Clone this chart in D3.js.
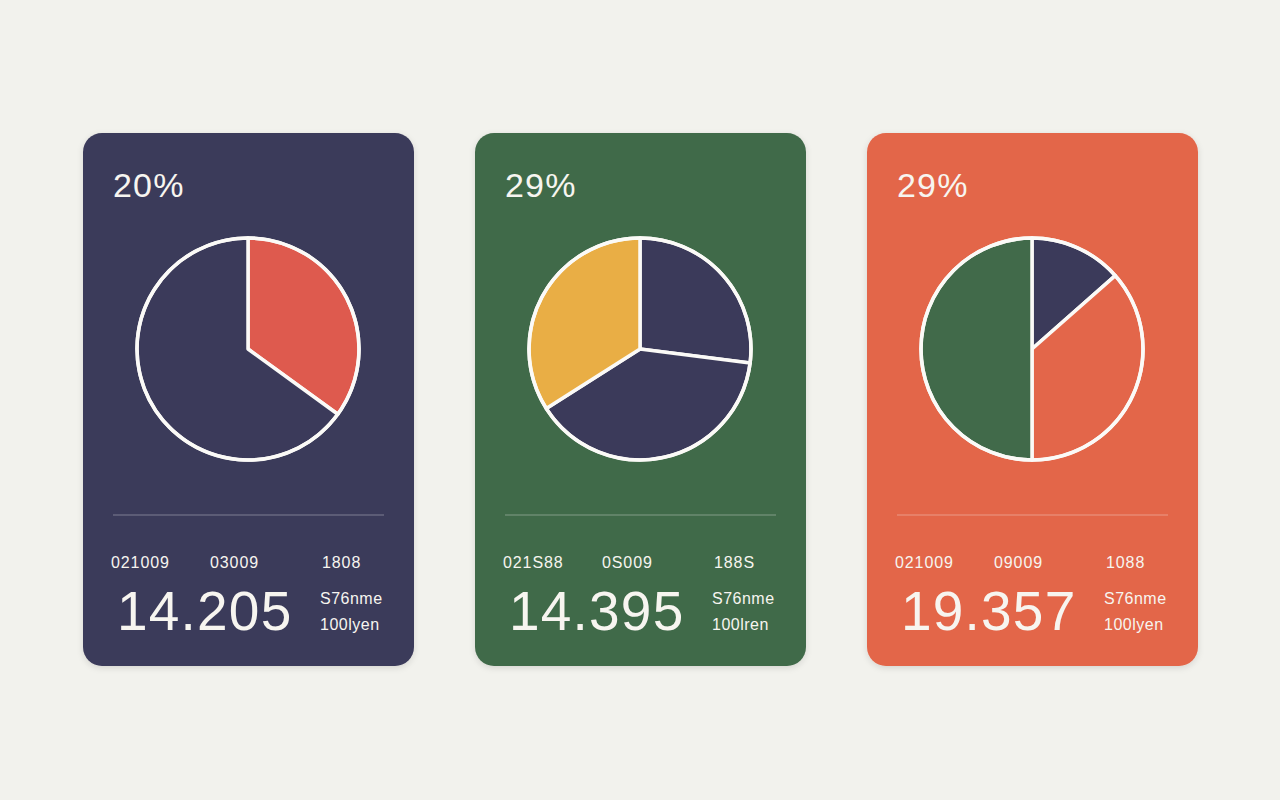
<!DOCTYPE html>
<html>
<head>
<meta charset="utf-8">
<script src="https://cdn.jsdelivr.net/npm/d3@7"></script>
<style>
  html, body { margin: 0; padding: 0; background: #f2f2ed; }
  svg { display: block; }
  text { font-family: "Liberation Sans", Arial, Helvetica, sans-serif; fill: #f7f5f0; }
</style>
</head>
<body>
<svg id="chart" width="1280" height="800"></svg>
<script>
// valores de cada cartão
const titulos     = ["20%", "29%", "29%"];
const fatias      = [[35, 65], [27, 39, 34], [13.5, 36.5, 50]];
const rotulosA    = ["021009", "021S88", "021009"];
const rotulosB    = ["03009", "0S009", "09009"];
const rotulosC    = ["1808", "188S", "1088"];
const totais      = ["14.205", "14.395", "19.357"];
const notasCima   = ["S76nme", "S76nme", "S76nme"];
const notasBaixo  = ["100lyen", "100lren", "100lyen"];

// estilos
const coresCartao = ["#3b3a5a", "#416a4a", "#e36649"];
const coresFatias = [
    ["#de5a4e", "#3b3a5a"],
    ["#3b3a5a", "#3b3a5a", "#e9ae45"],
    ["#3b3a5a", "#e3664a", "#416a4a"],
];

const width = 1280, height = 800;
const cardW = 331, cardH = 533, raio = 111;
const svg = d3.select("#chart");

const defs = svg.append("defs");
const sombra = defs.append("filter").attr("id", "sombra")
    .attr("x", "-10%").attr("y", "-10%").attr("width", "120%").attr("height", "120%");
sombra.append("feDropShadow")
    .attr("dx", 0).attr("dy", 2).attr("stdDeviation", 3)
    .attr("flood-color", "#000").attr("flood-opacity", 0.12);

const x = d3.scalePoint().domain(d3.range(titulos.length)).range([83, 867]);
const pie = d3.pie().sort(null).value(d => d);
const arc = d3.arc().innerRadius(0).outerRadius(raio);

const cartoes = svg.selectAll(".cartao")
    .data(d3.range(titulos.length))
    .join("g")
    .attr("class", "cartao")
    .attr("transform", i => `translate(${x(i)},133)`);

cartoes.append("rect")
    .attr("width", cardW).attr("height", cardH)
    .attr("rx", 19)
    .attr("fill", i => coresCartao[i])
    .attr("filter", "url(#sombra)");

cartoes.append("text")
    .attr("x", 30).attr("y", 64)
    .attr("font-size", 34)
    .attr("letter-spacing", 1.2)
    .text(i => titulos[i]);

// pizzas
cartoes.each(function(i) {
    const gp = d3.select(this).append("g")
        .attr("transform", `translate(165,216)`);
    gp.selectAll("path")
        .data(pie(fatias[i]))
        .join("path")
        .attr("d", arc)
        .attr("fill", (d, j) => coresFatias[i][j])
        .attr("stroke", "#fbfaf7")
        .attr("stroke-width", 3.5)
        .attr("stroke-linejoin", "round");
    gp.append("circle")
        .attr("r", raio)
        .attr("fill", "none")
        .attr("stroke", "#fbfaf7")
        .attr("stroke-width", 3.5);
});

cartoes.append("line")
    .attr("x1", 30).attr("x2", 301)
    .attr("y1", 382).attr("y2", 382)
    .attr("stroke", "#ffffff")
    .attr("stroke-opacity", 0.35)
    .attr("stroke-width", 1.2);

const linhaRotulos = [[28, rotulosA], [127, rotulosB], [239, rotulosC]];
linhaRotulos.forEach(([px, arr]) => {
    cartoes.append("text")
        .attr("x", px).attr("y", 435)
        .attr("font-size", 16)
        .attr("letter-spacing", 0.9)
        .text(i => arr[i]);
});

cartoes.append("text")
    .attr("x", 34).attr("y", 497)
    .attr("font-size", 55)
    .attr("letter-spacing", 1.2)
    .text(i => totais[i]);

cartoes.append("text")
    .attr("x", 237).attr("y", 471)
    .attr("font-size", 16)
    .attr("letter-spacing", 0.5)
    .text(i => notasCima[i]);

cartoes.append("text")
    .attr("x", 237).attr("y", 497)
    .attr("font-size", 16)
    .attr("letter-spacing", 0.5)
    .text(i => notasBaixo[i]);
</script>
</body>
</html>
